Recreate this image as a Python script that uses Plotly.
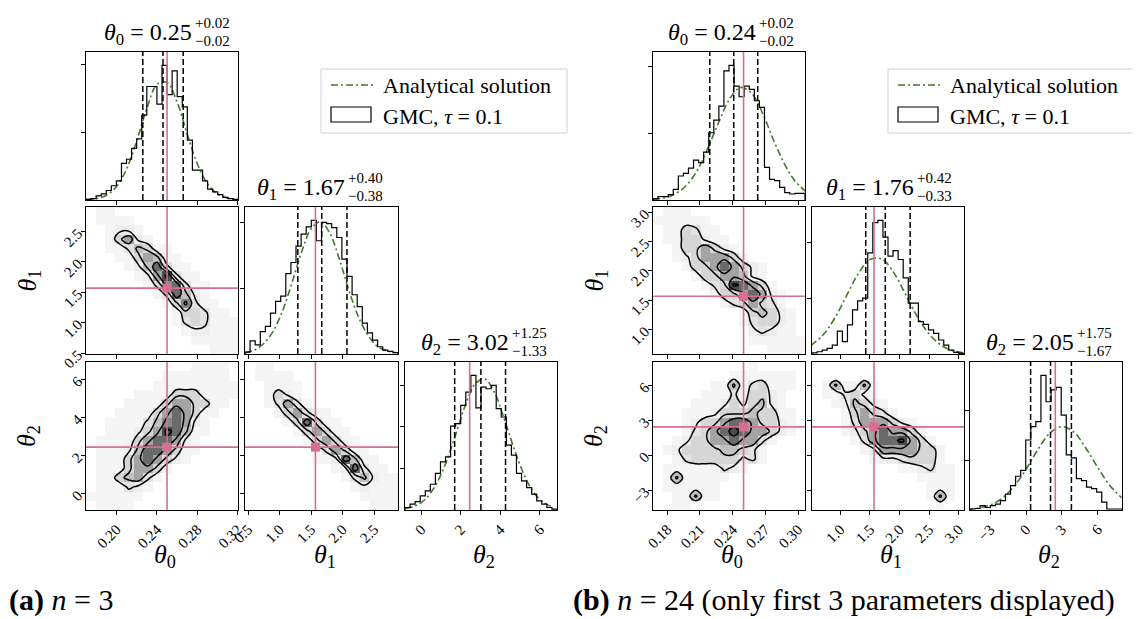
import numpy as np
import plotly.graph_objects as go

# ====================== data ======================
truth = [0.25, 1.57, 2.45]

# ---- (a) n = 3 ----
L_hist0 = [1, 2, 6, 9, 14, 21, 28, 54, 60, 76, 90, 125, 167, 167, 141, 198, 155, 190, 152, 137, 88, 44, 44, 28, 16, 12, 8, 4, 2, 1]
L_hist1 = [3, 20, 14, 34, 42, 62, 80, 88, 122, 139, 164, 182, 193, 203, 172, 200, 198, 192, 177, 144, 118, 90, 72, 47, 32, 21, 11, 6, 4, 2]
L_hist2 = [3, 7, 10, 17, 23, 31, 44, 58, 64, 101, 104, 126, 142, 162, 123, 148, 146, 150, 122, 112, 78, 66, 44, 35, 27, 19, 11, 7, 3, 1]
L_curve0_x = [0.17, 0.18, 0.19, 0.20, 0.21, 0.22, 0.23, 0.24, 0.25, 0.26, 0.27, 0.28, 0.29, 0.30, 0.31, 0.32]
L_curve0_y = [0.5, 2, 7, 20, 46, 87, 135, 170, 173, 144, 97, 53, 24, 9, 3, 1]
L_curve1_x = [0.45, 0.60, 0.75, 0.90, 1.05, 1.20, 1.35, 1.50, 1.65, 1.80, 1.95, 2.10, 2.25, 2.40, 2.55, 2.70, 2.85]
L_curve1_y = [2, 6, 16, 35, 66, 109, 155, 190, 201, 183, 144, 97, 57, 29, 12, 5, 2]
L_curve2_x = [-0.8, -0.3, 0.2, 0.7, 1.2, 1.7, 2.2, 2.7, 3.2, 3.7, 4.2, 4.7, 5.2, 5.7, 6.2, 6.7]
L_curve2_y = [2, 5, 13, 29, 54, 88, 124, 151, 158, 142, 110, 74, 43, 21, 9, 3]
L_quant = [[0.226, 0.246, 0.266], [1.29, 1.67, 2.07], [1.69, 3.02, 4.27]]
L_titles = [["0.25", "+0.02", "−0.02"], ["1.67", "+0.40", "−0.38"], ["3.02", "+1.25", "−1.33"]]
# density classes (0 empty .. 9 densest), rows listed top -> bottom
L_dens_10 = ["0110000000000000", "0111100000000000", "0012210000000000", "0014621000000000",
             "0011354110000000", "0001146511000000", "0000125831100000", "0000012693110000",
             "0000001378311000", "0000000138521000", "0000000014731100", "0000000001443110",
             "0000000001343111", "0000000000122111", "0000000000011111", "0000000000000111"]
L_dens_20 = ["0000000000011110", "0000000011111110", "0000000111111111", "0000011114441111",
             "0000111146644110", "0001111468641100", "0011113578621000", "0011124698511000",
             "0111146886210000", "0111258864110000", "0111468642100000", "0111466410000000",
             "0114563100000000", "0111321000000000", "1111110000000000", "0111100000000000"]
L_dens_21 = ["0110000000000000", "0111100000000000", "0011110000000000", "0014210000000000",
             "0013631000000000", "0001463110000000", "0000148411000000", "0000014641100000",
             "0000001464110000", "0000000136411000", "0000000112851100", "0000000001283110",
             "0000000000135211", "0000000000012111", "0000000000001111", "0000000000000111"]
L_ticks = [[0.20, 0.24, 0.28, 0.32], [0.5, 1.0, 1.5, 2.0, 2.5], [0, 2, 4, 6]]
L_ticklabels = [["0.20", "0.24", "0.28", "0.32"], ["0.5", "1.0", "1.5", "2.0", "2.5"], ["0", "2", "4", "6"]]
L_histticks = [[100, 200], [100, 200], [50, 100, 150]]

# ---- (b) n = 24 ----
R_hist0 = [2, 5, 5, 8, 16, 36, 40, 48, 60, 56, 72, 101, 120, 141, 194, 202, 171, 155, 171, 166, 149, 139, 49, 31, 29, 19, 11, 9, 10, 10]
R_hist1 = [2, 4, 7, 10, 16, 41, 22, 52, 79, 95, 100, 181, 235, 239, 209, 175, 185, 169, 136, 91, 91, 58, 53, 43, 37, 25, 16, 7, 3, 1]
R_hist2 = [2, 3, 9, 5, 9, 12, 19, 32, 49, 68, 80, 141, 168, 178, 271, 218, 242, 247, 191, 111, 105, 63, 59, 46, 43, 36, 16, 2, 2, 2]
R_curve0_x = [0.167, 0.177, 0.187, 0.197, 0.207, 0.217, 0.227, 0.237, 0.247, 0.257, 0.267, 0.277, 0.287, 0.297, 0.307]
R_curve0_y = [1, 3, 9, 21, 43, 77, 116, 151, 169, 161, 132, 92, 56, 29, 13]
R_curve1_x = [0.5, 0.7, 0.9, 1.1, 1.3, 1.5, 1.7, 1.9, 2.1, 2.3, 2.5, 2.7, 2.9, 3.1]
R_curve1_y = [15, 33, 63, 103, 143, 169, 170, 146, 107, 67, 36, 16, 6, 2]
R_curve2_x = [-5, -4, -3, -2, -1, 0, 1, 2, 3, 4, 5, 6, 7, 8]
R_curve2_y = [1, 4, 10, 24, 48, 82, 122, 155, 168, 157, 125, 86, 50, 25]
R_quant = [[0.219, 0.241, 0.263], [1.43, 1.76, 2.18], [0.38, 2.05, 3.80]]
R_titles = [["0.24", "+0.02", "−0.02"], ["1.76", "+0.42", "−0.33"], ["2.05", "+1.75", "−1.67"]]
R_dens_10 = ["0111000000000000", "1111110000000000", "0114311000000000", "0114421100000000",
             "0014464210000000", "0012466641000000", "0001446864210000", "0000144665210000",
             "0000013498641000", "0000001446862100", "0000000134643100", "0000000001454210",
             "0000000001344210", "0000000000232110", "0000000000111111", "0000000000001111"]
R_dens_20 = ["0000000000100000", "0000000011111110", "0000001151341110", "0000011131442100",
             "0000111242452100", "0001112444544110", "0001244688644210", "0001346898664210",
             "0012446686631000", "0124444554310000", "0013444442310000", "0111111321000000",
             "0151111100000000", "0111111000000000", "0011511000000000", "0011000000000000"]
R_dens_21 = ["0000000000000000", "0000000000000000", "0151151000000000", "0113421000000000",
             "0012542100000000", "0001464310000000", "0001366642100000", "0001246866410000",
             "0000136889641000", "0000012666644100", "0000001223444100", "0000000001123110",
             "0000000000011110", "0000000000001110", "0000000000001510", "0000000000000100"]
R_ticks = [[0.18, 0.21, 0.24, 0.27, 0.30], [1.0, 1.5, 2.0, 2.5, 3.0], [-3, 0, 3, 6]]
R_ticklabels = [["0.18", "0.21", "0.24", "0.27", "0.30"], ["1.0", "1.5", "2.0", "2.5", "3.0"], ["−3", "0", "3", "6"]]
R_histticks = [[100, 200], [100, 200], [100, 200]]

legend_labels = ["Analytical solution", "GMC, <i>τ</i> = 0.1"]
captions = ["<b>(a)</b> <i>n</i> = 3", "<b>(b)</b> <i>n</i> = 24 (only first 3 parameters displayed)"]

# ====================== layout / style ======================
W, H = 1141, 619
FONT = "Liberation Serif"
PINK = "#d6708f"
GREEN = "#3f7a2a"
GRAYS = ["rgba(255,255,255,0)", "#f5f5f5", "#eeeeee", "#e2e2e2", "#d6d6d6",
         "#c0c0c0", "#a4a4a4", "#878787", "#6a6a6a", "#4a4a4a"]
ROWS = [(44, 192), (199, 346), (354, 502)]
NB = "\u00a0"

FIGS = [
    dict(cols=[(78, 230), (237, 390), (397, 549)],
         xr=[[0.1697, 0.3203], [0.452, 2.88], [-0.83, 6.88]],
         yr=[None, [0.484, 2.906], [-0.86, 6.93]],
         split=[185, 338, 501.7], legend=(313, 61, 559, 125), caption_x=0,
         hist=[L_hist0, L_hist1, L_hist2],
         curve=[(L_curve0_x, L_curve0_y), (L_curve1_x, L_curve1_y), (L_curve2_x, L_curve2_y)],
         quant=L_quant, titles=L_titles,
         dens={(1, 0): L_dens_10, (2, 0): L_dens_20, (2, 1): L_dens_21},
         ticks=L_ticks, ticklabels=L_ticklabels, histticks=L_histticks),
    dict(cols=[(645, 797), (804, 956), (962, 1114)],
         xr=[[0.1669, 0.3064], [0.522, 3.09], [-4.70, 8.04]],
         yr=[None, [0.586, 3.09], [-4.72, 8.04]],
         split=[749.3, 906.7, 1067.3], legend=(880, 61, 1126, 125), caption_x=564,
         hist=[R_hist0, R_hist1, R_hist2],
         curve=[(R_curve0_x, R_curve0_y), (R_curve1_x, R_curve1_y), (R_curve2_x, R_curve2_y)],
         quant=R_quant, titles=R_titles,
         dens={(1, 0): R_dens_10, (2, 0): R_dens_20, (2, 1): R_dens_21},
         ticks=R_ticks, ticklabels=R_ticklabels, histticks=R_histticks),
]

cs = []
for k, c in enumerate(GRAYS):
    cs.append([k / 10, c])
    cs.append([(k + 1) / 10, c])

fig = go.Figure()
layout = {}
shapes = []
annotations = []


def pann(px, py, text, size, xanchor="center", yanchor="middle", angle=0):
    annotations.append(dict(x=px / W, y=1 - py / H, xref="paper", yref="paper", text=text,
                            showarrow=False, xanchor=xanchor, yanchor=yanchor, textangle=angle,
                            borderpad=0, font=dict(family=FONT, size=size, color="black")))


ax_common = dict(showline=True, mirror=True, linecolor="black", linewidth=1, ticks="outside",
                 ticklen=4, tickwidth=1, tickcolor="black", showgrid=False, zeroline=False,
                 automargin=False, tickfont=dict(family=FONT, size=15, color="black"),
                 fixedrange=True)

n = 0
for F in FIGS:
    for i in range(3):
        for j in range(i + 1):
            n += 1
            xa = "x" if n == 1 else f"x{n}"
            ya = "y" if n == 1 else f"y{n}"
            xk = "xaxis" if n == 1 else f"xaxis{n}"
            yk = "yaxis" if n == 1 else f"yaxis{n}"
            c0, c1 = F["cols"][j]
            r0, r1 = ROWS[i]
            xr = F["xr"][j]
            layout[xk] = dict(ax_common, domain=[c0 / W, c1 / W], range=xr, anchor=ya,
                              tickvals=F["ticks"][j], ticktext=F["ticklabels"][j],
                              showticklabels=(i == 2), tickangle=-45)
            if i == j:
                counts = F["hist"][i]
                top = 1.1 * max(counts)
                layout[yk] = dict(ax_common, domain=[1 - r1 / H, 1 - r0 / H], range=[0, top],
                                  anchor=xa, tickvals=F["histticks"][i], showticklabels=False)
                edges = np.linspace(xr[0], xr[1], len(counts) + 1)
                xs = [edges[0]] + list(edges[:-1]) + [edges[-1], edges[-1]]
                ys = [0] + list(counts) + [counts[-1], 0]
                cx, cy = F["curve"][i]
                fig.add_trace(go.Scatter(x=cx, y=cy, mode="lines", xaxis=xa, yaxis=ya,
                                         line=dict(color=GREEN, width=1.6, dash="7px,3px,2px,3px", shape="spline"),
                                         hoverinfo="skip", showlegend=False))
                fig.add_trace(go.Scatter(x=xs, y=ys, mode="lines", xaxis=xa, yaxis=ya,
                                         line=dict(color="black", width=1.2, shape="hv"),
                                         hoverinfo="skip", showlegend=False))
                shapes.append(dict(type="line", xref=xa, yref=f"{ya} domain", x0=truth[i], x1=truth[i],
                                   y0=0, y1=1, line=dict(color=PINK, width=1.6)))
                for q in F["quant"][i]:
                    shapes.append(dict(type="line", xref=xa, yref=f"{ya} domain", x0=q, x1=q, y0=0, y1=1,
                                       line=dict(color="black", width=1.5, dash="6px,3px")))
                # title
                sx = F["split"][i]
                val, up, lo = F["titles"][i]
                pann(sx, r0 - 18, f"<i>θ</i><sub>{i}</sub>{NB}={NB}{val}", 24, xanchor="right")
                pann(sx + 1, r0 - 29, up, 15, xanchor="left")
                pann(sx + 1, r0 - 11, lo, 15, xanchor="left")
            else:
                yr = F["yr"][i]
                layout[yk] = dict(ax_common, domain=[1 - r1 / H, 1 - r0 / H], range=yr, anchor=xa,
                                  tickvals=F["ticks"][i], ticktext=F["ticklabels"][i],
                                  showticklabels=(j == 0), tickangle=-45)
                rows = F["dens"][(i, j)]
                Z = np.array([[int(ch) for ch in row] for row in rows][::-1], dtype=float)
                nyc, nxc = Z.shape
                xc = xr[0] + (np.arange(nxc) + 0.5) * (xr[1] - xr[0]) / nxc
                yc = yr[0] + (np.arange(nyc) + 0.5) * (yr[1] - yr[0]) / nyc
                fig.add_trace(go.Heatmap(x=xc, y=yc, z=Z, zmin=-0.5, zmax=9.5, colorscale=cs,
                                         showscale=False, xaxis=xa, yaxis=ya, hoverinfo="skip"))
                fig.add_trace(go.Contour(x=xc, y=yc, z=Z, autocontour=False,
                                         contours=dict(start=2.5, end=8.5, size=2, coloring="none"),
                                         line=dict(color="black", width=1.5, smoothing=1.0),
                                         showscale=False, xaxis=xa, yaxis=ya, hoverinfo="skip"))
                shapes.append(dict(type="line", xref=xa, yref=f"{ya} domain", x0=truth[j], x1=truth[j],
                                   y0=0, y1=1, line=dict(color=PINK, width=1.6)))
                shapes.append(dict(type="line", xref=f"{xa} domain", yref=ya, x0=0, x1=1,
                                   y0=truth[i], y1=truth[i], line=dict(color=PINK, width=1.6)))
                fig.add_trace(go.Scatter(x=[truth[j]], y=[truth[i]], mode="markers", xaxis=xa, yaxis=ya,
                                         marker=dict(symbol="square", size=9, color=PINK),
                                         hoverinfo="skip", showlegend=False))

    # axis labels
    for j in range(3):
        c0, c1 = F["cols"][j]
        pann((c0 + c1) / 2 + 3, 548, f"<i>θ</i><sub>{j}</sub>", 26)
    for i in (1, 2):
        r0, r1 = ROWS[i]
        pann(F["cols"][0][0] - 58, (r0 + r1) / 2, f"<i>θ</i><sub>{i}</sub>", 26, angle=-90)

    # legend (drawn by hand, matplotlib style)
    lx0, ly0, lx1, ly1 = F["legend"]
    shapes.append(dict(type="rect", xref="paper", yref="paper", x0=lx0 / W, x1=lx1 / W,
                       y0=1 - ly1 / H, y1=1 - ly0 / H, line=dict(color="#d0d0d0", width=1),
                       fillcolor="white", layer="above"))
    shapes.append(dict(type="line", xref="paper", yref="paper", x0=(lx0 + 10) / W, x1=(lx0 + 52) / W,
                       y0=1 - (ly0 + 16) / H, y1=1 - (ly0 + 16) / H,
                       line=dict(color=GREEN, width=1.6, dash="7px,3px,2px,3px"), layer="above"))
    shapes.append(dict(type="rect", xref="paper", yref="paper", x0=(lx0 + 10) / W, x1=(lx0 + 50) / W,
                       y0=1 - (ly0 + 53) / H, y1=1 - (ly0 + 38) / H,
                       line=dict(color="black", width=1.2), fillcolor="white", layer="above"))
    pann(lx0 + 61, ly0 + 16, legend_labels[0], 22, xanchor="left")
    pann(lx0 + 61, ly0 + 47, legend_labels[1], 22, xanchor="left")

for k, F in enumerate(FIGS):
    pann(F["caption_x"], 592, captions[k], 30, xanchor="left")

fig.update_layout(width=W, height=H, margin=dict(l=0, r=0, t=0, b=0, autoexpand=False),
                  paper_bgcolor="white", plot_bgcolor="white", showlegend=False,
                  shapes=shapes, annotations=annotations, **layout)
fig.write_html("out.html")
